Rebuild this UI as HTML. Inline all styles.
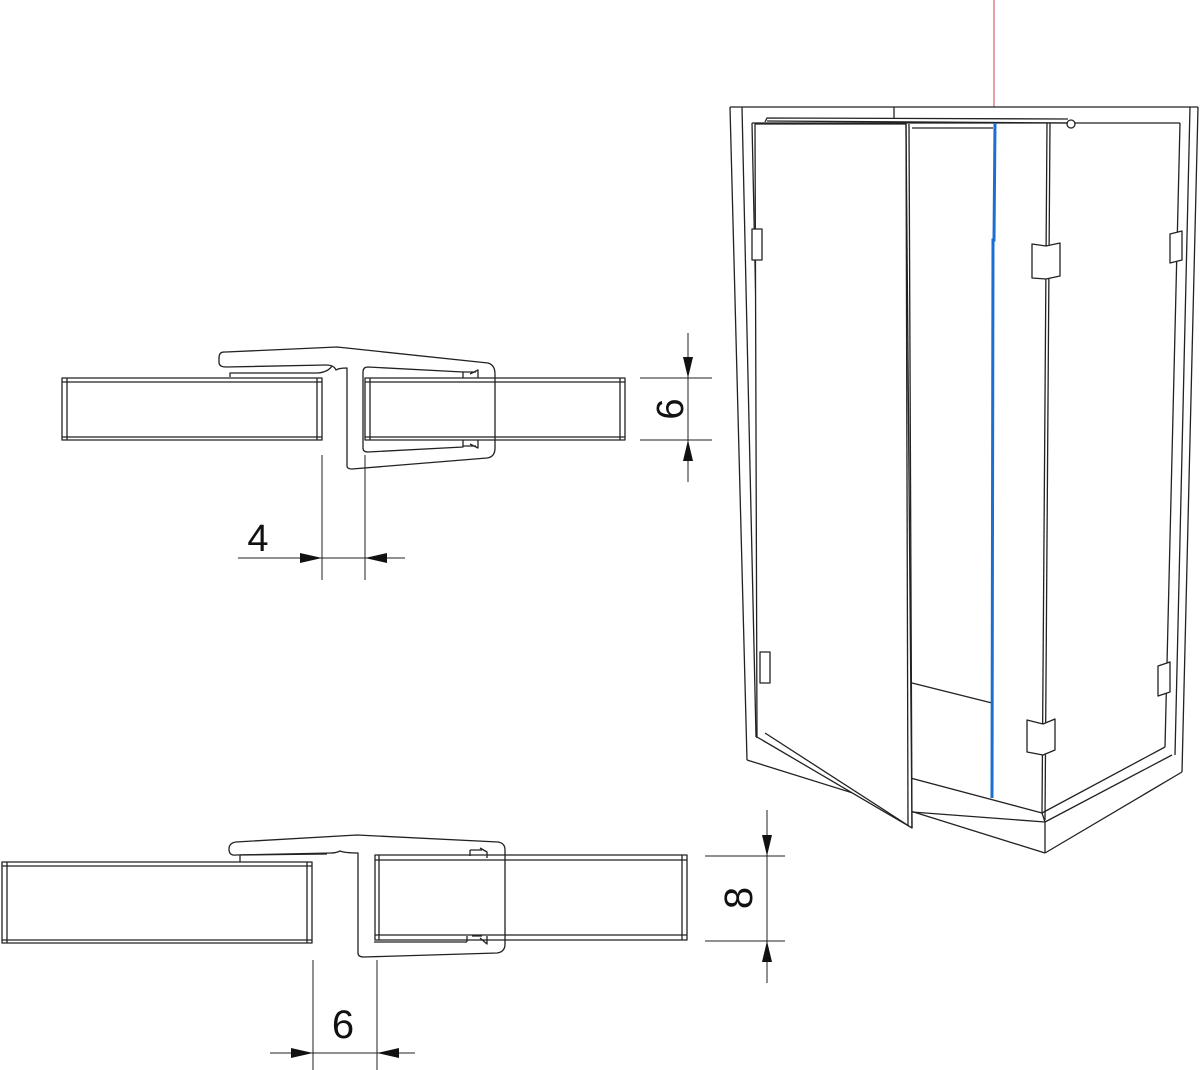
<!DOCTYPE html>
<html><head><meta charset="utf-8"><style>
html,body{margin:0;padding:0;background:#fff;}
svg{display:block;}
text{font-family:"Liberation Sans",sans-serif;fill:#111;}
</style></head><body>
<svg width="1200" height="1070" viewBox="0 0 1200 1070" xmlns="http://www.w3.org/2000/svg">
<g fill="none" stroke="#222" stroke-width="1.3" stroke-linejoin="round">

<!-- ===== TOP PROFILE ===== -->
<!-- left glass -->
<rect x="62" y="378" width="260" height="62" fill="#fff"/>
<line x1="62" y1="382" x2="322" y2="382"/><line x1="62" y1="437" x2="322" y2="437"/>
<line x1="67" y1="378" x2="67" y2="440"/><line x1="317" y1="378" x2="317" y2="440"/>
<!-- right glass -->
<rect x="365" y="378" width="260" height="62" fill="#fff"/>
<line x1="365" y1="382" x2="625" y2="382"/><line x1="365" y1="437" x2="625" y2="437"/>
<line x1="370" y1="378" x2="370" y2="440"/><line x1="620" y1="378" x2="620" y2="440"/>
<!-- profile outline -->
<path d="M224,352 Q219,352 219,358 L219,362 Q219,367 226,367 L326,365 Q334,365 336,370 Q339,368 347,368 L347,466 Q347,469 352,469 L487,458 Q495,457 495,448 L495,374 Q495,365 488,363 L337,347 L226,352 Z"/>
<path d="M230,377 L230,373 L318,373 Q328,372 332,366"/>
<path d="M363,372 Q363,367 368,367 L463,372 L463,378"/>
<path d="M363,372 L363,448 Q363,452 368,452 L463,447 L463,440"/>
<path d="M463,372 L476,372 M470,374 L478,370 L478,378 M463,446 L476,446 M470,444 L478,448 L478,440"/>
<!-- dim 6 -->
<line x1="640" y1="378" x2="712" y2="378" stroke-width="1"/>
<line x1="640" y1="440" x2="712" y2="440" stroke-width="1"/>
<line x1="688" y1="333" x2="688" y2="482" stroke-width="1"/>
<!-- dim 4 -->
<line x1="322" y1="455" x2="322" y2="580" stroke-width="1"/>
<line x1="365" y1="455" x2="365" y2="580" stroke-width="1"/>
<line x1="238" y1="558" x2="405" y2="558" stroke-width="1"/>

<!-- ===== BOTTOM PROFILE ===== -->
<rect x="2" y="862" width="310" height="81" fill="#fff"/>
<line x1="2" y1="866" x2="312" y2="866"/><line x1="2" y1="940" x2="312" y2="940"/>
<line x1="7" y1="862" x2="7" y2="943"/><line x1="307" y1="862" x2="307" y2="943"/>
<rect x="375" y="855" width="312" height="85" fill="#fff"/>
<line x1="375" y1="860" x2="687" y2="860"/><line x1="375" y1="935" x2="687" y2="935"/>
<line x1="379" y1="855" x2="379" y2="940"/><line x1="682" y1="855" x2="682" y2="940"/>
<path d="M236,842 Q229,843 229,849 Q229,856 236,855 L331,853 Q336,853 340,851 Q345,853 358,853 L358,953 Q358,957 364,957 L497,953 Q505,952 505,944 L505,850 Q505,843 498,842 L357,835 L236,842 Z"/>
<path d="M240,862 L240,855 M240,855 L327,854"/>
<path d="M374,942 L467,942 M467,942 L467,936 M480,938 L487,944 L487,936 M472,936 L482,936"/>
<path d="M470,850 L482,850 M480,848 L487,852 L487,858 M470,856 L470,850"/>
<!-- dim 8 -->
<line x1="705" y1="856" x2="785" y2="856" stroke-width="1"/>
<line x1="705" y1="941" x2="785" y2="941" stroke-width="1"/>
<line x1="767" y1="810" x2="767" y2="983" stroke-width="1"/>
<!-- dim 6 -->
<line x1="313" y1="960" x2="313" y2="1070" stroke-width="1"/>
<line x1="377" y1="960" x2="377" y2="1070" stroke-width="1"/>
<line x1="270" y1="1053" x2="415" y2="1053" stroke-width="1"/>

<!-- ===== ENCLOSURE ===== -->
<line x1="994" y1="0" x2="994" y2="107" stroke="#c44" stroke-width="1"/>
<!-- top -->
<line x1="730" y1="107" x2="1198" y2="107"/>
<line x1="894" y1="107" x2="894" y2="118"/>
<line x1="752" y1="123" x2="1180" y2="123"/>
<!-- left post -->
<line x1="730" y1="107" x2="747" y2="760"/>
<line x1="742" y1="107" x2="756" y2="737"/>
<line x1="752" y1="123" x2="765" y2="733"/>
<!-- right post -->
<line x1="1198" y1="107" x2="1182" y2="772"/>
<line x1="1190" y1="107" x2="1175" y2="755"/>
<line x1="1180" y1="123" x2="1165" y2="747"/>
<!-- base -->
<line x1="747" y1="760" x2="1045" y2="853"/>
<line x1="756" y1="737" x2="1042" y2="813"/>
<line x1="1042" y1="813" x2="1165" y2="747"/>
<line x1="1045" y1="822" x2="1172" y2="755"/>
<line x1="1045" y1="853" x2="1182" y2="772"/>
<line x1="1045" y1="822" x2="1045" y2="853"/>
<line x1="1042" y1="813" x2="1045" y2="822"/>
<line x1="912" y1="812" x2="1045" y2="822"/>
<!-- back -->
<line x1="912" y1="128" x2="993" y2="128"/>
<line x1="912" y1="683" x2="992" y2="703"/>
<!-- fixed panel edge -->
<line x1="1047" y1="123" x2="1042" y2="813"/>
<line x1="1050" y1="123" x2="1045" y2="820"/>
<!-- rail -->
<path d="M765,122 L767,118 L1068,119 M767,121 L1068,123"/>
<circle cx="1071" cy="124" r="4" fill="#fff"/>
<!-- door -->
<path d="M755,124 L906,124 L912,828 L757,737 Z" fill="#fff"/>
<line x1="765" y1="733" x2="912" y2="828"/>
<line x1="906" y1="124" x2="908" y2="826"/>
<line x1="909" y1="124" x2="912" y2="828"/>
<!-- hinges -->
<rect x="752" y="229" width="10" height="31" fill="#fff"/>
<rect x="760" y="652" width="10" height="31" fill="#fff"/>
<path d="M1170,234 L1182,231 L1182,260 L1170,263 Z" fill="#fff"/>
<path d="M1158,666 L1170,662 L1170,692 L1158,696 Z" fill="#fff"/>
<path d="M1032,244 L1046,246 L1060,243 L1060,276 L1046,279 L1032,278 Z" fill="#fff"/>
<path d="M1027,720 L1043,724 L1055,719 L1055,750 L1043,755 L1027,752 Z" fill="#fff"/>
</g>
<!-- blue edge -->
<polyline points="995,123 994,240 993,240 992,798" fill="none" stroke="#1a6fd0" stroke-width="3"/>
<!-- arrowheads -->
<g fill="#111">
<polygon points="688,378 683,357 693,357"/>
<polygon points="688,440 683,461 693,461"/>
<polygon points="322,558 300,553 300,563"/>
<polygon points="365,558 387,553 387,563"/>
<polygon points="767,856 762,835 772,835"/>
<polygon points="767,941 762,962 772,962"/>
<polygon points="313,1053 291,1048 291,1058"/>
<polygon points="377,1053 399,1048 399,1058"/>
</g>
<text x="258" y="551" font-size="38" text-anchor="middle">4</text>
<text x="343" y="1038" font-size="40" text-anchor="middle">6</text>
<text transform="translate(683,409) rotate(-90)" font-size="38" text-anchor="middle">6</text>
<text transform="translate(752,898) rotate(-90)" font-size="40" text-anchor="middle">8</text>
</svg>
</body></html>
